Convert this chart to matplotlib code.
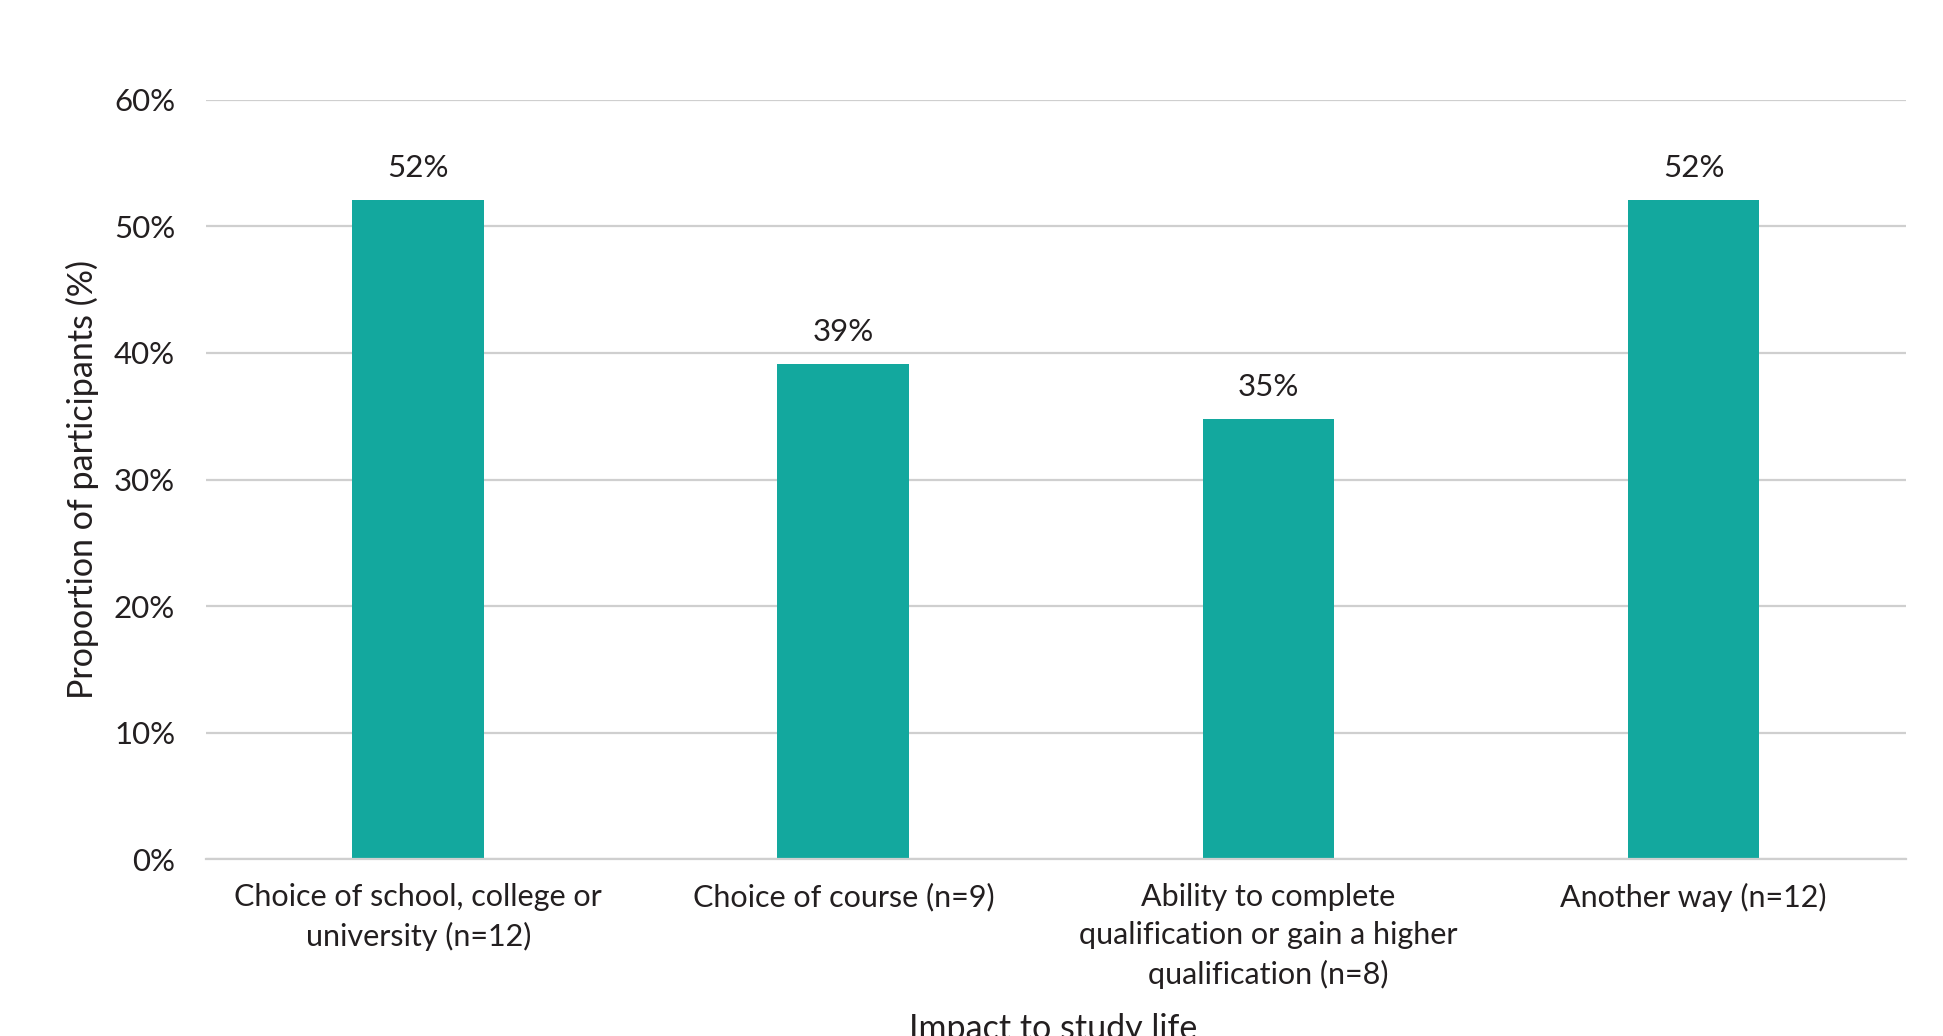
import matplotlib
matplotlib.use("Agg")
import matplotlib.pyplot as plt
from matplotlib.ticker import PercentFormatter

categories = [
    "Choice of school, college or\nuniversity (n=12)",
    "Choice of course (n=9)",
    "Ability to complete\nqualification or gain a higher\nqualification (n=8)",
    "Another way (n=12)",
]
values = [52.1, 39.1, 34.8, 52.1]
labels = ["52%", "39%", "35%", "52%"]
yticks = [0, 10, 20, 30, 40, 50, 60]

plt.rcParams['font.family'] = ['Lato', 'DejaVu Sans']
text_color = "#231f20"
bar_color = "#13A89E"
grid_color = "#CFCFCF"

fig = plt.figure(figsize=(19.43, 10.36), dpi=100)
ax = fig.add_axes([0.1059, 0.1708, 0.8751, 0.7327])

x = list(range(len(categories)))
bars = ax.bar(x, values, width=0.31, color=bar_color, zorder=3)
for xi, v, lab in zip(x, values, labels):
    ax.annotate(lab, (xi, v), xytext=(0, 23), textcoords="offset points",
                ha="center", va="center", fontsize=22.5, color=text_color)

ax.set_xlim(-0.5, len(categories) - 0.5)
ax.set_ylim(0, 60)
ax.set_yticks(yticks)
ax.yaxis.set_major_formatter(PercentFormatter(decimals=0))
ax.set_xticks(x)
ax.set_xticklabels(categories, fontsize=22, color=text_color, linespacing=1.45)
ax.tick_params(axis="y", length=0, pad=22, labelsize=22.5, labelcolor=text_color)
ax.tick_params(axis="x", length=0, pad=17)
ax.grid(axis="y", color=grid_color, linewidth=1.6, zorder=0)
for s in ["top", "right", "left"]:
    ax.spines[s].set_visible(False)
ax.spines["bottom"].set_color(grid_color)
ax.spines["bottom"].set_linewidth(1.6)
ax.spines["bottom"].set_zorder(4)

ax.set_ylabel("Proportion of participants (%)", fontsize=24.5, color=text_color)
ax.yaxis.set_label_coords(-0.063, 0.5)
fig.text(0.542, 0.022, "Impact to study life", ha="center", va="top",
         fontsize=24.5, color=text_color)

fig.savefig("out.png", dpi=100, facecolor="white")
